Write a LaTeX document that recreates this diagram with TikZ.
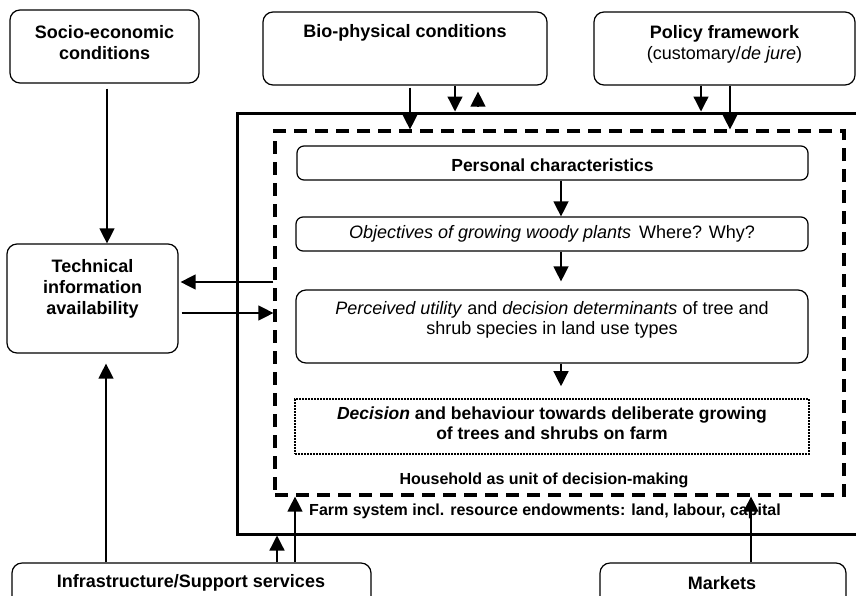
\documentclass[tikz,border=0pt]{standalone}
\usepackage{fontspec}
\setmainfont{Liberation Sans}
\usetikzlibrary{positioning,arrows.meta}
\tikzset{
  box/.style={draw, line width=1.2pt, rounded corners=10pt, inner sep=0pt},
  txt/.style={align=center, inner sep=0pt, font=\fontsize{18}{20}\selectfont},
  btxt/.style={txt, font=\fontsize{17.5}{20}\selectfont\bfseries},
  htxt/.style={txt, font=\fontsize{18}{21}\selectfont},
  hbtxt/.style={txt, font=\fontsize{18}{21}\selectfont\bfseries},
  ltxt/.style={txt, font=\fontsize{16}{20}\selectfont\bfseries},
  arr/.style={line width=1.3pt, -{Triangle[width=15pt,length=15pt]}},
}
\begin{document}
\begin{tikzpicture}[x=1pt,y=-1pt]
  \clip (0,0) rectangle (856,595);
  % outside influences
  \node[box, minimum width=189pt, minimum height=73pt] (socio) at (104.5,46.5) {};
  \node[hbtxt] (socio-t) at (104.5,43) {Socio-economic\\conditions};
  \node[box, minimum width=284pt, minimum height=73pt] (bio) at (405,48.5) {};
  \node[hbtxt] (bio-t) at (405,33) {Bio-physical conditions};
  \node[box, minimum width=261pt, minimum height=73pt] (policy) at (724.5,48.5) {};
  \node[htxt] (policy-t) at (724.5,44) {\textbf{Policy framework}\\(customary/\textit{de jure})};
  \node[box, minimum width=171pt, minimum height=109pt] (tech) at (92.5,298.5) {};
  \node[hbtxt] (tech-t) at (92.5,289) {Technical\\information\\availability};
  \node[box, minimum width=359pt, minimum height=57pt] (infra) at (191.5,591.5) {};
  \node[hbtxt] (infra-t) at (191,583) {Infrastructure/Support services};
  \node[box, minimum width=246pt, minimum height=57pt] (markets) at (723,591.5) {};
  \node[hbtxt] (markets-t) at (722,583) {Markets};

  % farm and household
  \node[draw, line width=3pt, minimum width=650pt, minimum height=421pt] (farm) at (562,323.5) {};
  \node[draw, line width=3.2pt, dash pattern=on 13pt off 8pt, minimum width=569pt, minimum height=364pt] (house) at (559.5,313) {};
  \node[ltxt] (house-t) at (544,480) {Household as unit of decision-making};
  \node[ltxt] (farm-t) at (545,511) {Farm system incl. resource endowments: land, labour, capital};

  % decision chain
  \node[box, rounded corners=7pt, minimum width=511pt, minimum height=34pt] (personal) at (552.5,163) {};
  \node[btxt] (personal-t) at (552.5,165) {Personal characteristics};
  \node[box, rounded corners=7pt, minimum width=512pt, minimum height=34pt] (objectives) at (552,234) {};
  \node[txt] (objectives-t) at (552,234) {\textit{Objectives of growing woody plants}\, Where? Why?};
  \node[box, minimum width=512pt, minimum height=73pt] (utility) at (552,326.5) {};
  \node[txt] (utility-t) at (552,320) {\textit{Perceived utility} and \textit{decision determinants} of tree and\\shrub species in land use types};
  \node[draw, line width=1.6pt, dash pattern=on 1.6pt off 1.4pt, minimum width=514pt, minimum height=55pt] (decision) at (552,426.5) {};
  \node[btxt] (decision-t) at (552,423) {\textit{Decision} and behaviour towards deliberate growing\\of trees and shrubs on farm};

  % connectors
  \draw[arr, shorten <=5pt] (107,0 |- socio.south) -- (107,0 |- tech.north);
  \draw[arr, shorten >=10pt] (106,0 |- infra.north) -- (106,0 |- tech.south);
  \draw[arr, shorten <=3pt] (tech.east |- 0,313) -- (house.west |- 0,313);
  \draw[arr, shorten >=2pt] (house.west |- 0,282) -- (tech.east |- 0,282);
  \draw[arr] (455,0 |- bio.south) -- (455,0 |- farm.north);
  \draw[arr, shorten <=5pt, shorten >=6pt] (478,0 |- farm.north) -- (478,0 |- bio.south);
  \draw[arr, shorten <=2pt] (410,0 |- bio.south) -- (410,0 |- house.north);
  \draw[arr] (701,0 |- policy.south) -- (701,0 |- farm.north);
  \draw[arr] (730,0 |- policy.south) -- (730,0 |- house.north);
  \draw[arr] (561,0 |- personal.south) -- (561,0 |- objectives.north);
  \draw[arr, shorten >=8pt] (561,0 |- objectives.south) -- (561,0 |- utility.north);
  \draw[arr, shorten >=12pt] (561,0 |- utility.south) -- (561,0 |- decision.north);
  \draw[arr] (277,0 |- infra.north) -- (277,0 |- farm.south);
  \draw[arr] (295,0 |- infra.north) -- (295,0 |- house.south);
  \draw[arr] (751,0 |- markets.north) -- (751,0 |- house.south);
\end{tikzpicture}
\end{document}
